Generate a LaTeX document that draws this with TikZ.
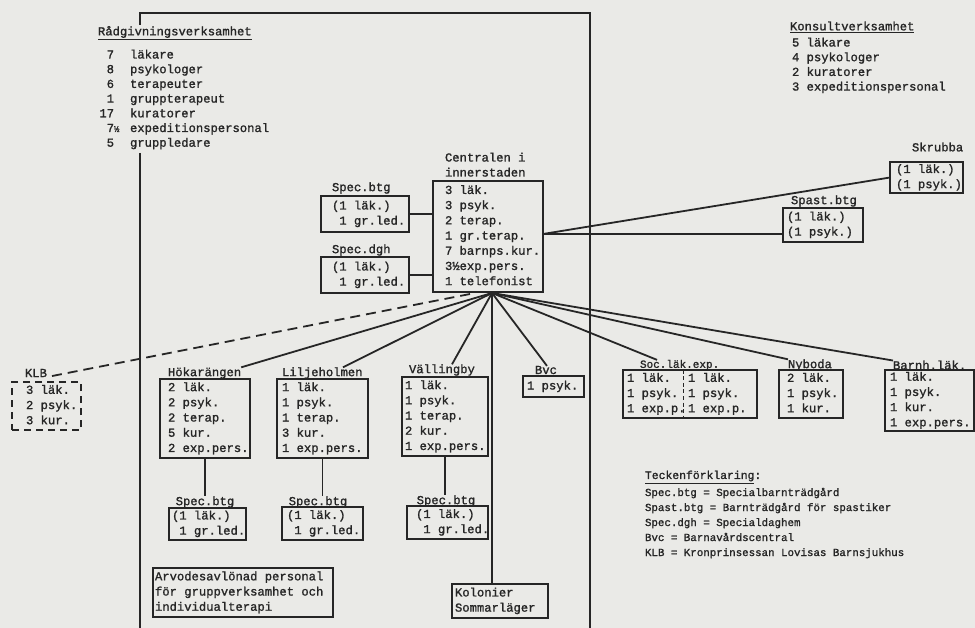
\documentclass[tikz,border=0pt]{standalone}
\usepackage{fontspec}
\newfontfamily\tw{Liberation Mono}[UprightFeatures={FakeBold=1.3}]
\usetikzlibrary{calc}
\definecolor{paper}{RGB}{234,234,231}
\definecolor{ink}{RGB}{38,38,38}
\newcommand\bxc[3]{\makebox[#1][l]{\hspace*{#2}\begin{tabular}{@{}l@{}}#3\end{tabular}}}
\tikzset{
  every node/.style={inner sep=0pt, outer sep=0pt, text=ink},
  bx/.style={draw=ink, line width=1.8pt, anchor=north west, font=\tw\fontsize{12.2}{15.2}\selectfont},
  dbx/.style={bx, dash pattern=on 7pt off 5pt},
  lbl/.style={anchor=west, font=\tw\fontsize{12.2}{15.2}\selectfont},
  lst/.style={anchor=north west, font=\tw\fontsize{12.2}{14.7}\selectfont},
  ln/.style={draw=ink, line width=1.8pt},
  dl/.style={ln, dash pattern=on 10pt off 6pt},
}
\begin{document}
\begin{tikzpicture}[x=1pt,y=-1pt]
\fill[paper] (0,0) rectangle (975,628);
\useasboundingbox (0,0) rectangle (975,628);

% frame
\coordinate (fa) at (140,25);
\coordinate (ftl) at (140,13);
\coordinate (ftr) at (590,13);
\coordinate (fbr) at (590,628);
\coordinate (fb) at (140,153);
\coordinate (fc) at (140,628);
\draw[ln] (fa) -- (ftl) -- (ftr) -- (fbr);
\draw[ln] (fb) -- (fc);

% Raadgivning
\node[lbl] (radh) at (98,33) {\underline{Rådgivningsverksamhet}};
\node[lst] (radl) at (99.4,48.2) {\begin{tabular}{@{}r@{\hspace{16pt}}l@{}}7 & läkare\\ 8 & psykologer\\ 6 & terapeuter\\ 1 & gruppterapeut\\ 17 & kuratorer\\ 7\rlap{\fontsize{9}{9}\selectfont ½} & expeditionspersonal\\ 5 & gruppledare\end{tabular}};

% Konsult
\node[lbl] (konh) at (790,27) {\underline{Konsultverksamhet}};
\node[lst] (konl) at (792,36.2) {\begin{tabular}{@{}l@{}}5 läkare\\4 psykologer\\2 kuratorer\\3 expeditionspersonal\end{tabular}};

% Centralen
\node[lst, font=\tw\fontsize{12.2}{15}\selectfont] (cenl) at (445,151) {\begin{tabular}{@{}l@{}}Centralen i\\innerstaden\end{tabular}};
\node[bx, minimum height=111] (cen) at (433,181) {\bxc{110pt}{12pt}{3 läk.\\3 psyk.\\2 terap.\\1 gr.terap.\\7 barnps.kur.\\3½exp.pers.\\1 telefonist}};

\node[lbl] (sb0l) at (332,188) {Spec.btg};
\node[bx, minimum height=36] (sb0) at (321,196) {\bxc{88pt}{11pt}{(1 läk.)\\~1 gr.led.}};
\node[lbl] (sdgl) at (332,250) {Spec.dgh};
\node[bx, minimum height=36] (sdg) at (321,257) {\bxc{88pt}{11pt}{(1 läk.)\\~1 gr.led.}};

% right side
\node[lbl] (skrl) at (912,147) {Skrubba};
\node[bx, minimum height=31] (skr) at (890,162) {\bxc{73pt}{6pt}{(1 läk.)\\(1 psyk.)}};
\node[lbl] (spal) at (791,201) {Spast.btg};
\node[bx, minimum height=34] (spa) at (783,208) {\bxc{80pt}{4pt}{(1 läk.)\\(1 psyk.)}};

% KLB
\node[lbl] (klbl) at (25,373) {KLB};
\node[dbx, minimum height=48] (klb) at (12,382) {\bxc{69pt}{14pt}{3 läk.\\2 psyk.\\3 kur.}};

% branches
\node[lbl] (hokl) at (168,373) {Hökarängen};
\node[bx, minimum height=79] (hok) at (160,379) {\bxc{90pt}{8pt}{2 läk.\\2 psyk.\\2 terap.\\5 kur.\\2 exp.pers.}};
\node[lbl] (lill) at (282,373) {Liljeholmen};
\node[bx, minimum height=79] (lil) at (277,379) {\bxc{91pt}{5pt}{1 läk.\\1 psyk.\\1 terap.\\3 kur.\\1 exp.pers.}};
\node[lbl] (vall) at (409,370) {Vällingby};
\node[bx, minimum height=79] (val) at (402,377) {\bxc{86pt}{3pt}{1 läk.\\1 psyk.\\1 terap.\\2 kur.\\1 exp.pers.}};
\node[lbl] (bvcl) at (535,370) {Bvc};
\node[bx, minimum height=21] (bvc) at (523,376) {\bxc{61pt}{4pt}{1 psyk.}};
\node[lbl, font=\tw\fontsize{11}{13}\selectfont] (socl) at (640,365) {Soc.läk.exp.};
\node[bx, minimum height=48] (soc) at (623,370) {\makebox[134pt][l]{\hspace*{4pt}\begin{tabular}{@{}p{61pt}@{}l@{}}1 läk. & 1 läk.\\1 psyk. & 1 psyk.\\1 exp.p. & 1 exp.p.\end{tabular}}};
\node[lbl] (nybl) at (788,365) {Nyboda};
\node[bx, minimum height=48] (nyb) at (779,370) {\bxc{64pt}{8pt}{2 läk.\\1 psyk.\\1 kur.}};
\node[lbl] (barl) at (893,365) {Barnh.läk.};
\node[bx, minimum height=61] (bar) at (885,370) {\bxc{89pt}{5pt}{1 läk.\\1 psyk.\\1 kur.\\1 exp.pers.}};

% lower Spec.btg
\node[lbl, anchor=center] (sb1l) at (205,502) {Spec.btg};
\node[bx, minimum height=32] (sb1) at (169,508) {\bxc{77pt}{3pt}{(1 läk.)\\~1 gr.led.}};
\node[lbl, anchor=center] (sb2l) at (318,502) {Spec.btg};
\node[bx, minimum height=33] (sb2) at (282,507) {\bxc{81pt}{5pt}{(1 läk.)\\~1 gr.led.}};
\node[lbl, anchor=center] (sb3l) at (446,501) {Spec.btg};
\node[bx, minimum height=33] (sb3) at (407,506) {\bxc{81pt}{9pt}{(1 läk.)\\~1 gr.led.}};

\node[bx, minimum height=49] (arv) at (153,568) {\bxc{180pt}{2pt}{Arvodesavlönad personal\\för gruppverksamhet och\\individualterapi}};
\node[bx, minimum height=34] (kol) at (452,584) {\bxc{96pt}{3pt}{Kolonier\\Sommarläger}};

% legend
\node[lbl, font=\tw\fontsize{11.4}{14}\selectfont] (legh) at (645,477) {\underline{Teckenförklaring}:};
\node[anchor=north west, font=\tw\fontsize{10.8}{15}\selectfont] (legl) at (645,485.5) {\begin{tabular}{@{}l@{}}Spec.btg = Specialbarnträdgård\\Spast.btg = Barnträdgård för spastiker\\Spec.dgh = Specialdaghem\\Bvc = Barnavårdscentral\\KLB = Kronprinsessan Lovisas Barnsjukhus\end{tabular}};

% connectors
\coordinate (hub) at (492,293);
\coordinate (hubk) at (470,294);
\coordinate (cer) at ($(cen.east)+(0,-2.5)$);
\draw[ln] (sb0.east) -- (sb0.east -| cen.west);
\draw[ln] (sdg.east) -- (sdg.east -| cen.west);
\draw[ln] (cer) -- (skr.west);
\draw[ln] (cer) -- (cer -| spa.west);
\draw[dl] (hubk) -- (klbl.south east);
\draw[ln] (hub) -- (hokl.north east);
\draw[ln] (hub) -- ($(lill.north west)+(61,0)$);
\draw[ln] (hub) -- ($(vall.north west)+(43,0)$);
\draw[ln] (hub) -- ($(bvcl.north west)+(12,0)$);
\draw[ln] (hub) -- ($(socl.north west)+(17,0)$);
\draw[ln] (hub) -- (nybl.north west);
\draw[ln] (hub) -- (barl.north west);
\draw[ln] (hub) -- (hub |- kol.north);
\draw[ln] (hok.south) -- (hok.south |- sb1l.north);
\draw[ln] (lil.south) -- (lil.south |- sb2l.north);
\draw[ln] (val.south) -- (val.south |- sb3l.north);
\draw[ink, line width=1pt, dash pattern=on 4pt off 2.5pt] ($(soc.north west)+(60,0)$) -- ($(soc.south west)+(60,0)$);
\end{tikzpicture}
\end{document}
